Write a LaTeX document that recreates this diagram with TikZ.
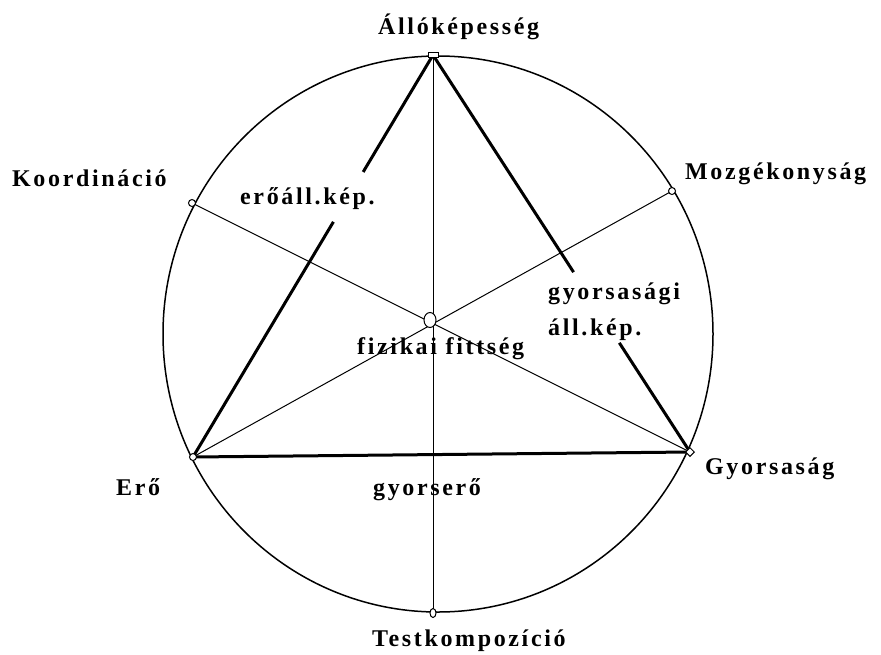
\documentclass[tikz,border=0pt]{standalone}
\usepackage{fontspec}
\setmainfont{Liberation Serif}[LetterSpace=11]
\usepackage{tikz}
\usetikzlibrary{positioning,calc,shapes.geometric}
\tikzset{
  lbl/.style={font=\fontsize{24}{28}\selectfont\bfseries, inner sep=0pt, anchor=base west},
  thin/.style={line width=1pt},
  thick/.style={line width=3pt},
  dot/.style={draw, fill=white, line width=1pt, circle, inner sep=0pt, minimum size=7pt},
}
\begin{document}
\begin{tikzpicture}[x=1pt, y=-1pt]
  \useasboundingbox (0,0) rectangle (881,654);
  \draw[line width=1.5pt] (438,334) ellipse (275 and 278);

  % points on the circle
  \coordinate (top) at (433,55);
  \coordinate (bot) at (433,613);
  \coordinate (koord) at (192,203);
  \coordinate (mozg) at (672,191);
  \coordinate (ero) at (193,457);
  \coordinate (gyors) at (690,452);
  \coordinate (mid) at (430,320);

  \draw[thin] (top) -- (bot);
  \draw[thin] (koord) -- (gyors);
  \draw[thin] (mozg) -- (ero);

  % triangle, broken at its labels
  \draw[thick] (top) -- ($(top)!0.291!(ero)$);
  \draw[thick] ($(top)!0.415!(ero)$) -- (ero);
  \draw[thick] (top) -- ($(top)!0.547!(gyors)$);
  \draw[thick] ($(top)!0.725!(gyors)$) -- (gyors);
  \draw[thick] (ero) -- (gyors);

  \node[draw, fill=white, line width=1pt, rectangle, minimum width=10pt, minimum height=5pt, inner sep=0pt] (ntop) at (top) {};
  \node[dot, ellipse, minimum width=6pt, minimum height=9pt] (nbot) at (bot) {};
  \node[dot] (nkoord) at (koord) {};
  \node[dot] (nmozg) at (mozg) {};
  \node[dot] (nero) at (ero) {};
  \node[dot, diamond, minimum size=9pt] (ngyors) at (gyors) {};
  \node[dot, ellipse, minimum width=12pt, minimum height=15pt] (nmid) at (mid) {};

  % labels
  \node[lbl] (allo) at (378,34) {Állóképesség};
  \node[lbl] (koordl) at (12,186) {Koordináció};
  \node[lbl] (mozgl) at (685,179) {Mozgékonyság};
  \node[lbl] (eroall) at (240,204) {erőáll.kép.};
  \node[lbl] (gyall) at (548,299) {gyorsasági};
  \node[lbl] (gyall2) at (548,335) {áll.kép.};
  \node[lbl] (fitt) at (357,354) {fizikai fittség};
  \node[lbl] (erol) at (116,495) {Erő};
  \node[lbl] (gyero) at (373,495) {gyorserő};
  \node[lbl] (gyorsl) at (705,474) {Gyorsaság};
  \node[lbl] (test) at (372,646) {Testkompozíció};
\end{tikzpicture}
\end{document}
